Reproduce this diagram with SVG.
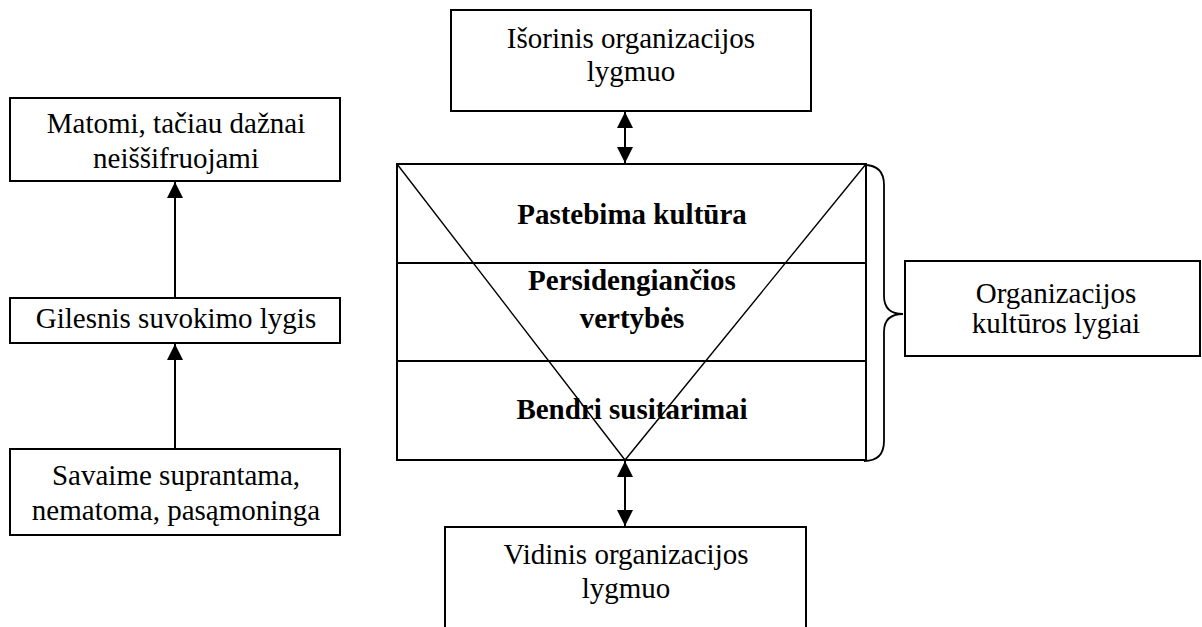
<svg xmlns="http://www.w3.org/2000/svg" width="1202" height="627" viewBox="0 0 1202 627">
<style>
.box{fill:#fff;stroke:#000;stroke-width:2}
.t{font-family:"Liberation Serif","Times New Roman",serif;font-size:29px;fill:#000;text-anchor:middle}
.b{font-weight:bold}
.ln{stroke:#000;stroke-width:2;fill:none}
.thin{stroke:#000;stroke-width:1.4;fill:none}
.brace{stroke:#000;stroke-width:1.8;fill:none}
</style>
<defs>
<marker id="ah" markerUnits="userSpaceOnUse" markerWidth="18" markerHeight="18" viewBox="0 0 18 18" refX="16" refY="9" orient="auto-start-reverse">
<path d="M0,1 L16,9 L0,17 Z" fill="#000"/>
</marker>
</defs>
<rect width="1202" height="627" fill="#fff"/>
<g id="connectors">
<line class="ln" x1="175" y1="298" x2="175" y2="182" marker-end="url(#ah)"/>
<line class="ln" x1="175" y1="449" x2="175" y2="344" marker-end="url(#ah)"/>
<line class="ln" x1="625" y1="112" x2="625" y2="163" marker-start="url(#ah)" marker-end="url(#ah)"/>
<line class="ln" x1="625" y1="461" x2="625" y2="526" marker-start="url(#ah)" marker-end="url(#ah)"/>
<path class="brace" d="M864,165 Q884,165 884,185 L884,296 Q884,314 903,314 Q884,314 884,332 L884,441 Q884,461 864,461"/>
</g>
<g id="left1">
<rect class="box" x="10" y="98" width="330" height="83"/>
<text class="t" x="176" y="133">Matomi, tačiau dažnai</text>
<text class="t" x="176" y="168">neiššifruojami</text>
</g>
<g id="left2">
<rect class="box" x="10" y="298" width="330" height="45"/>
<text class="t" x="176" y="328">Gilesnis suvokimo lygis</text>
</g>
<g id="left3">
<rect class="box" x="10" y="449" width="330" height="86"/>
<text class="t" x="176" y="485">Savaime suprantama,</text>
<text class="t" x="176" y="520">nematoma, pasąmoninga</text>
</g>
<g id="top">
<rect class="box" x="451" y="10" width="360" height="101"/>
<text class="t" x="631" y="48">Išorinis organizacijos</text>
<text class="t" x="631" y="81">lygmuo</text>
</g>
<g id="levels">
<rect class="box" x="397" y="164" width="469" height="296"/>
<line class="ln" x1="397" y1="263" x2="866" y2="263"/>
<line class="ln" x1="397" y1="361" x2="866" y2="361"/>
<polyline class="thin" points="397,164 625,460 866,164"/>
<text class="t b" x="632" y="224">Pastebima kultūra</text>
<text class="t b" x="632" y="290">Persidengiančios</text>
<text class="t b" x="632" y="328">vertybės</text>
<text class="t b" x="632" y="419">Bendri susitarimai</text>
</g>
<g id="right">
<rect class="box" x="905" y="261" width="295" height="95"/>
<text class="t" x="1056" y="303">Organizacijos</text>
<text class="t" x="1056" y="333">kultūros lygiai</text>
</g>
<g id="bottom">
<rect class="box" x="445" y="527" width="361" height="120"/>
<text class="t" x="626" y="564">Vidinis organizacijos</text>
<text class="t" x="626" y="598">lygmuo</text>
</g>
</svg>
